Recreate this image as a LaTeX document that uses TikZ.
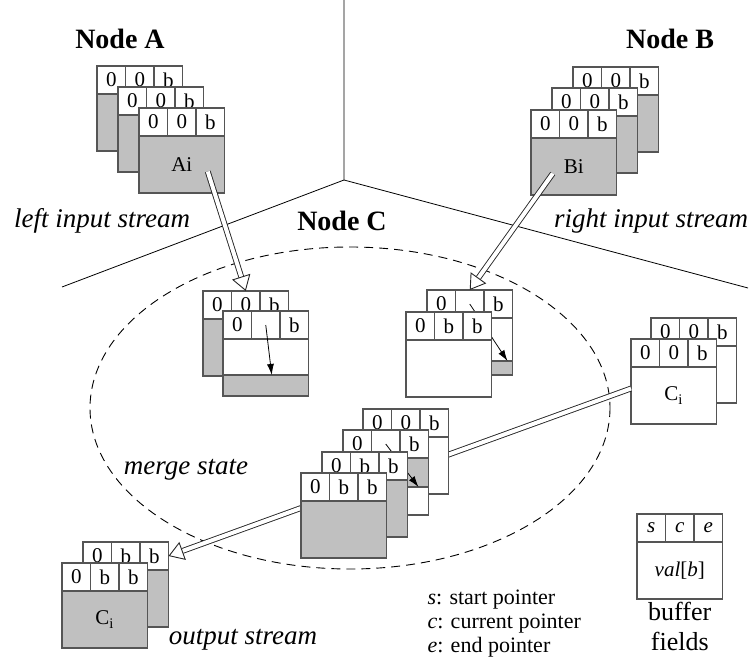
\documentclass[tikz,border=0pt]{standalone}
\usepackage{fontspec}
\setmainfont{Liberation Serif}
\usetikzlibrary{arrows.meta, calc, positioning}

\definecolor{linegray}{RGB}{85,85,85}
\definecolor{bufgray}{RGB}{192,192,192}

\tikzset{
  cell/.style={draw=linegray, fill=white, line width=1.1pt, minimum width=28.5pt, minimum height=28pt, inner sep=0pt, outer sep=0pt, font=\fontsize{21}{21}\selectfont},
  body/.style={draw=linegray, line width=1.1pt, minimum width=85.5pt, minimum height=57pt, inner sep=0pt, outer sep=0pt, font=\fontsize{21}{21}\selectfont},
  bar/.style={body, fill=bufgray, minimum height=#1},
  hollow/.style={draw=black!85, line width=0.9pt, double=white, double distance=4pt, -{Triangle[length=15pt, width=19pt, fill=white]}},
  pointer/.style={-{Latex[length=11pt, width=7pt]}, line width=0.8pt},
  title/.style={font=\fontsize{28}{28}\selectfont\bfseries},
  stream/.style={font=\fontsize{27}{27}\selectfont\itshape},
  legend/.style={font=\fontsize{22}{22}\selectfont, anchor=west},
}

% buffer: name, top left corner, s c e cells, body fill, body text
\newcommand{\bufbox}[7]{%
  \node[cell, anchor=north west] (#1-s) at (#2) {#3};
  \node[cell, anchor=west] (#1-c) at (#1-s.east) {#4};
  \node[cell, anchor=west] (#1-e) at (#1-c.east) {#5};
  \node[body, fill=#6, anchor=north west] (#1) at (#1-s.south west) {#7};
}

\begin{document}
\begin{tikzpicture}[x=1pt, y=-1pt]
    \useasboundingbox (0,0) rectangle (752,660);

    % Borders between the nodes
    \coordinate (top) at (344,0);
    \coordinate (hub) at (344,180);
    \coordinate (lend) at (62,287);
    \coordinate (rend) at (748,288);
    \draw[line width=0.8pt] (top) -- (hub) -- (lend);
    \draw[line width=0.8pt] (hub) -- (rend);

    % Merge state region
    \draw[dashed, dash pattern=on 9pt off 6pt, line width=0.9pt] (350,408) ellipse (260 and 161);

    % Node A
    \bufbox{a1}{97,66}{0}{0}{b}{bufgray}{}
    \bufbox{a2}{118,87}{0}{0}{b}{bufgray}{}
    \bufbox{ai}{139,108}{0}{0}{b}{bufgray}{Ai}

    % Node B
    \bufbox{b1}{573,67}{0}{0}{b}{bufgray}{}
    \bufbox{b2}{552,88}{0}{0}{b}{bufgray}{}
    \bufbox{bi}{531,110}{0}{0}{b}{bufgray}{Bi}

    % Labels
    \node[title] (nodeA) at (120,39) {Node A};
    \node[title] (nodeB) at (670,39) {Node B};
    \node[title] (nodeC) at (342,221) {Node C};
    \node[stream] (leftin) at (102,221) {left input stream};
    \node[stream] (rightin) at (651,221) {right input stream};

    % Left input buffers
    \bufbox{mla}{203,291}{0}{0}{b}{bufgray}{}
    \bufbox{mlb}{223,311}{0}{}{b}{white}{}
    \node[bar=21pt, anchor=south west] (mlb-bar) at (mlb.south west) {};
    \draw[pointer] (mlb-c.center) -- ($(mlb-bar.north)+(6,0)$);

    % Right input buffers
    \bufbox{mra}{427,290}{0}{}{b}{white}{}
    \node[bar=14pt, anchor=south west] (mra-bar) at (mra.south west) {};
    \draw[pointer] (mra-c.center) -- ($(mra-bar.north east)+(-5,0)$);
    \bufbox{mrb}{406,312}{0}{b}{b}{white}{}

    % Output buffers
    \bufbox{ca}{651,318}{0}{0}{b}{white}{}
    \bufbox{ci}{631,339}{0}{0}{b}{white}{C$_\mathrm{i}$}
    \bufbox{oa}{83,542}{0}{b}{b}{bufgray}{}
    \bufbox{oi}{62,563}{0}{b}{b}{bufgray}{C$_\mathrm{i}$}
    \draw[hollow] ($(ci.west)+(0,-7)$) -- (oa-e.east);

    % Merged buffers
    \bufbox{m1}{363,409}{0}{0}{b}{white}{}
    \bufbox{m2}{343,430}{0}{}{b}{bufgray}{}
    \node[body, fill=white, minimum height=28pt, anchor=south west] (m2-low) at (m2.south west) {};
    \draw[pointer] (m2-c.center) -- ($(m2-low.north east)+(-10,0)$);
    \bufbox{m3}{322,452}{0}{b}{b}{bufgray}{}
    \bufbox{m4}{301,473}{0}{b}{b}{bufgray}{}

    % Input streams
    \draw[hollow] ($(ai.center)+(26,7)$) -- (mla-c.north);
    \draw[hollow] ($(bi.center)+(-21,7)$) -- (mra-c.north);

    \node[stream] (merge) at (186,470) {merge state};
    \node[stream] (output) at (243,640) {output stream};

    % Legend
    \node[legend] (legS) at (424,600) {\textit{s}: start pointer};
    \node[legend] (legC) at (424,624) {\textit{c}: current pointer};
    \node[legend] (legE) at (424,647) {\textit{e}: end pointer};
    \bufbox{key}{637,514}{\textit{s}}{\textit{c}}{\textit{e}}{white}{\textit{val}[\textit{b}]}
    \node[font=\fontsize{26}{30}\selectfont, align=center, below=0pt of key] (fields) {buffer\\fields};
\end{tikzpicture}
\end{document}
